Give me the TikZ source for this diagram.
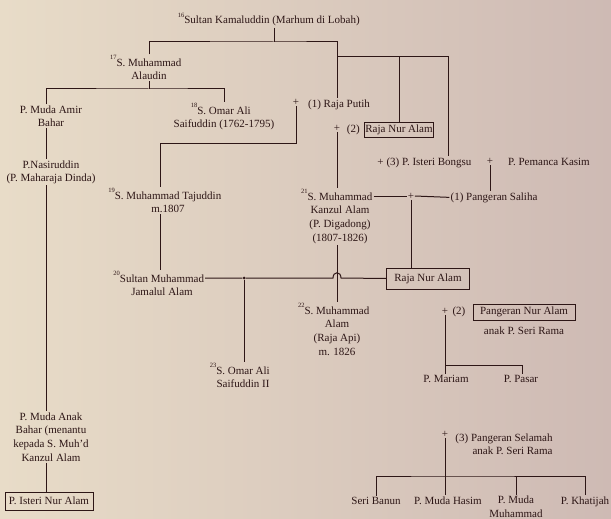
\documentclass[tikz,border=0pt]{standalone}
\usepackage{fontspec}
\setmainfont{Liberation Serif}
\usepackage{xcolor}
\usepackage{tikz}
\usetikzlibrary{positioning}

\definecolor{clothL}{RGB}{232,220,200}
\definecolor{clothR}{RGB}{206,186,180}
\definecolor{ink}{RGB}{45,22,22}
\newcommand{\gen}[1]{\llap{\raisebox{1.2ex}{\fontsize{6.5}{7}\selectfont #1}}}

\begin{document}
\begin{tikzpicture}[
  x=1pt, y=-1pt,
  font=\fontsize{11}{13.8}\selectfont,
  text=ink,
  person/.style={align=center, inner sep=1pt, anchor=base},
  namebox/.style={draw=ink, line width=0.8pt, inner sep=1pt, anchor=center},
  plus/.style={inner sep=0.6pt},
  link/.style={draw=ink, line width=1pt}
]
\shade[left color=clothL, right color=clothR] (0,0) rectangle (611,519);
\node[person] (kamal) at (272,24) {\gen{16}Sultan Kamaluddin (Marhum di Lobah)};
\node[person] (alaudin) at (149,79.8) {\gen{17}S. Muhammad\\Alaudin};
\node[person] (amir) at (51,126.8) {P. Muda Amir\\Bahar};
\node[person] (omar) at (224,127.8) {\gen{18}S. Omar Ali\\Saifuddin (1762-1795)};
\node[person] (putih) at (339,107) {(1) Raja Putih};
\node[plus] (plusA) at (296,102) {+};
\node[plus] (plusB) at (337,128) {+};
\node[namebox, minimum width=68pt, minimum height=15pt] (nuralamA) at (399,129.5) {Raja Nur Alam};
\node[person, anchor=east, left=3pt of nuralamA] (wifeA) {(2)};
\node[person] (bongsu) at (429,165) {(3) P. Isteri Bongsu};
\node[plus, left=1pt of bongsu.west] (plusC) {+};
\node[plus] (plusD) at (490,161) {+};
\node[person] (kasim) at (549,165) {P. Pemanca Kasim};
\node[person] (nasir) at (51,181.8) {P.Nasiruddin\\(P. Maharaja Dinda)};
\node[person] (tajuddin) at (168,212.8) {\gen{19}S. Muhammad Tajuddin\\m.1807};
\node[person] (kanzul) at (340,241.4) {\gen{21}S. Muhammad\\Kanzul Alam\\(P. Digadong)\\(1807-1826)};
\node[plus] (plusE) at (411,196) {+};
\node[person] (saliha) at (494,200) {(1) Pangeran Saliha};
\node[person] (jamalul) at (162,295.8) {\gen{20}Sultan Muhammad\\Jamalul Alam};
\node[circle, fill=ink, inner sep=0pt, minimum size=3pt] (dot) at (244,278) {};
\node[namebox, minimum width=83pt, minimum height=21pt] (nuralamB) at (428,278.5) {Raja Nur Alam};
\node[person] (alam) at (337,355.4) {\gen{22}S. Muhammad\\Alam\\(Raja Api)\\m. 1826};
\node[person] (omarB) at (243,387.8) {\gen{23}S. Omar Ali\\Saifuddin II};
\node[plus] (plusF) at (445,311) {+};
\node[namebox, minimum width=102pt, minimum height=16pt] (nuralamC) at (524,312) {Pangeran Nur Alam};
\node[person, anchor=east, left=6pt of nuralamC] (wifeC) {(2)};
\node[person] (anakC) at (524,334) {anak P. Seri Rama};
\node[person] (mariam) at (446,382) {P. Mariam};
\node[person] (pasar) at (521,382) {P. Pasar};
\node[plus] (plusG) at (445,434) {+};
\node[person, align=right] (selamah) at (504,454.8) {(3) Pangeran Selamah\\anak P. Seri Rama};
\node[person] (banun) at (376,504) {Seri Banun};
\node[person] (hasim) at (448,504) {P. Muda Hasim};
\node[person] (mudamuh) at (516,517.5) {P. Muda\\Muhammad};
\node[person] (khatijah) at (585,504) {P. Khatijah};
\node[person] (anak) at (51,461.4) {P. Muda Anak\\Bahar (menantu\\kepada S. Muh'd\\Kanzul Alam};
\node[namebox, minimum width=88pt, minimum height=18pt] (isteri) at (49,501) {P. Isteri Nur Alam};
\coordinate (barK) at (274,42);
\coordinate (barP) at (337,57);
\coordinate (tapB) at (448,57);
\coordinate (barA) at (149,89);
\coordinate (barT) at (160,143);
\coordinate (colL) at (46,0);
\coordinate (hop) at (337,278);
\coordinate (barM) at (522,365);
\coordinate (barS) at (445,476);
\draw[link] (kamal.south -| barK) -- (barK);
\draw[link] (alaudin.north) |- (barK) -| (barP |- putih.north);
\draw[link] (barP) -- (tapB) -- (tapB |- bongsu.north);
\draw[link] (nuralamA.north) -- (nuralamA.north |- barP);
\draw[link] (alaudin.south) -- (barA);
\draw[link] (colL |- amir.north) |- (barA) -| (omar.north);
\draw[link] (colL |- amir.south) -- (colL |- nasir.north);
\draw[link] (colL |- nasir.south) -- (colL |- anak.north);
\draw[link] (colL |- anak.south) -- (colL |- isteri.north);
\draw[link] (plusA.south) |- (barT) -- (barT |- tajuddin.north);
\draw[link] (barT |- tajuddin.south) -- (barT |- jamalul.north);
\draw[link] (plusB.south) -- (plusB.south |- kanzul.north);
\draw[link] (plusD.south) -- (plusD.south |- saliha.north);
\draw[link] (kanzul.east |- plusE) -- (plusE.west);
\draw[link] (plusE.east) -- (saliha.west);
\draw[link] (plusE.south) -- (plusE.south |- nuralamB.north);
\draw[link] (nuralamB.west) -- ([xshift=4pt]hop) .. controls +(0,-7) and +(0,-7) .. ([xshift=-4pt]hop) -- (dot) -- (jamalul.east |- dot);
\draw[link] (dot) -- (dot |- omarB.north);
\draw[link] (hop |- kanzul.south) -- (hop |- alam.north);
\draw[link] (plusF.south) -- (plusF.south |- mariam.north);
\draw[link] (plusF.south |- barM) -- (barM) -- (barM |- pasar.north);
\draw[link] (plusG.south) -- (plusG.south |- hasim.north);
\draw[link] (banun.north) |- (barS) -| (khatijah.north);
\draw[link] (barS -| mudamuh.north) -- (mudamuh.north);
\end{tikzpicture}
\end{document}
